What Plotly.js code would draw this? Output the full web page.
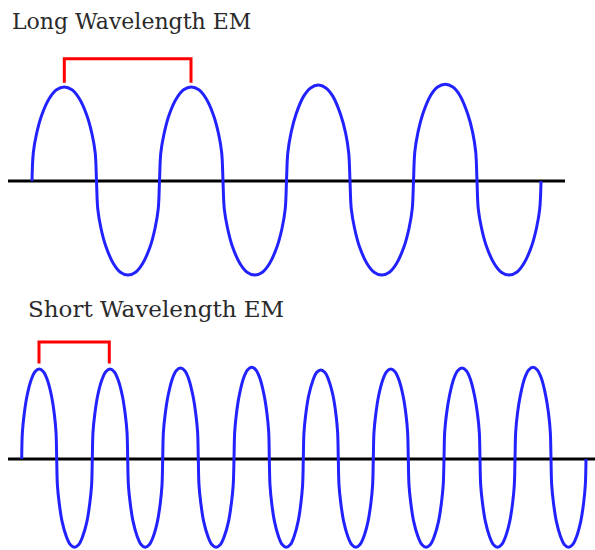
<!DOCTYPE html>
<html>
<head>
<meta charset="utf-8">
<script src="https://cdn.plot.ly/plotly-3.0.1.min.js"></script>
<style>html,body{margin:0;padding:0;background:#fff;}#chart{width:595px;height:550px;}</style>
</head>
<body>
<div id="chart"></div>
<script>
// Titles
const titleLong = "Long Wavelength EM";
const titleShort = "Short Wavelength EM";

// Long wavelength wave (x along the picture, y = amplitude)
const longX = [
  32, 33.3, 36.5, 41.7, 49.4, 56.5, 64.3, 72, 79.1, 86.8, 92, 95.2,
  96.5, 97.8, 100.9, 106, 113.5, 120.4, 128, 135.6, 142.5, 150.1, 155.1, 158.2,
  159.5, 160.8, 164, 169, 176.6, 183.6, 191.3, 198.9, 205.9, 213.5, 218.6, 221.7,
  223, 224.3, 227.5, 232.5, 240.1, 247.1, 254.8, 262.4, 269.4, 277, 282.1, 285.2,
  286.5, 287.8, 291, 296, 303.6, 310.6, 318.3, 325.9, 332.9, 340.5, 345.6, 348.7,
  350, 351.3, 354.5, 359.5, 367.1, 374.1, 381.8, 389.4, 396.4, 404, 409.1, 412.2,
  413.5, 414.8, 418, 423, 430.6, 437.6, 445.3, 452.9, 459.9, 467.5, 472.6, 475.7,
  477, 478.3, 481.5, 486.6, 494.3, 501.3, 509, 516.7, 523.7, 531.4, 536.5, 539.7, 541
];
const longY = [
  0, 0.3, 0.5, 0.7, 0.88, 0.97, 1.0, 0.97, 0.88, 0.7, 0.5, 0.3,
  0, -0.3, -0.5, -0.7, -0.88, -0.97, -1.0, -0.97, -0.88, -0.7, -0.5, -0.3,
  0, 0.3, 0.5, 0.7, 0.88, 0.97, 1.0, 0.97, 0.88, 0.7, 0.5, 0.3,
  0, -0.3, -0.5, -0.7, -0.88, -0.97, -1.0, -0.97, -0.88, -0.7, -0.5, -0.3,
  0, 0.3, 0.51, 0.71, 0.9, 0.99, 1.02, 0.99, 0.9, 0.71, 0.51, 0.3,
  0, -0.3, -0.5, -0.7, -0.88, -0.97, -1.0, -0.97, -0.88, -0.7, -0.5, -0.3,
  0, 0.31, 0.52, 0.72, 0.91, 1.0, 1.03, 1.0, 0.91, 0.72, 0.52, 0.31,
  0, -0.3, -0.5, -0.7, -0.88, -0.97, -1.0, -0.97, -0.88, -0.7, -0.5, -0.3, 0
];

// Short wavelength wave
const shortX = [
  21.7, 22.4, 24.2, 27, 31.2, 35, 39.2, 43.4, 47.3, 51.5, 54.3, 56,
  56.7, 57.4, 59.2, 62, 66.3, 70.2, 74.5, 78.8, 82.7, 87, 89.8, 91.6,
  92.3, 93, 94.8, 97.6, 101.9, 105.8, 110, 114.2, 118.1, 122.4, 125.2, 127,
  127.7, 128.4, 130.2, 133, 137.2, 141, 145.2, 149.4, 153.3, 157.5, 160.3, 162,
  162.7, 163.4, 165.2, 168, 172.3, 176.2, 180.5, 184.8, 188.7, 193, 195.8, 197.6,
  198.3, 199, 200.8, 203.6, 207.9, 211.8, 216.1, 220.4, 224.3, 228.6, 231.4, 233.2,
  234, 234.7, 236.5, 239.3, 243.6, 247.5, 251.7, 255.9, 259.8, 264.1, 266.9, 268.7,
  269.3, 270, 271.7, 274.4, 278.5, 282.2, 286.3, 290.4, 294.1, 298.2, 300.9, 302.6,
  303.3, 304, 305.8, 308.6, 312.8, 316.6, 320.8, 325, 328.9, 333.1, 335.9, 337.6,
  338.3, 339, 340.8, 343.6, 347.8, 351.6, 355.8, 360, 363.9, 368.1, 370.9, 372.6,
  373.3, 374, 375.8, 378.6, 382.8, 386.6, 390.8, 395, 398.9, 403.1, 405.9, 407.6,
  408.3, 409, 410.8, 413.6, 417.9, 421.8, 426.1, 430.4, 434.3, 438.6, 441.4, 443.2,
  444, 444.7, 446.5, 449.4, 453.7, 457.7, 462, 466.3, 470.3, 474.6, 477.5, 479.3,
  480, 480.7, 482.5, 485.3, 489.5, 493.3, 497.5, 501.7, 505.6, 509.8, 512.6, 514.3,
  515, 515.7, 517.5, 520.4, 524.7, 528.7, 533, 537.3, 541.3, 545.6, 548.5, 550.3,
  551, 551.7, 553.5, 556.3, 560.5, 564.3, 568.5, 572.7, 576.6, 580.8, 583.6, 585.3, 586
];
const shortY = [
  0, 0.3, 0.5, 0.7, 0.88, 0.97, 1.0, 0.97, 0.88, 0.7, 0.5, 0.3,
  0, -0.29, -0.49, -0.69, -0.86, -0.95, -0.98, -0.95, -0.86, -0.69, -0.49, -0.29,
  0, 0.3, 0.5, 0.7, 0.88, 0.97, 1.0, 0.97, 0.88, 0.7, 0.5, 0.3,
  0, -0.29, -0.49, -0.69, -0.86, -0.95, -0.98, -0.95, -0.86, -0.69, -0.49, -0.29,
  0, 0.3, 0.5, 0.7, 0.89, 0.98, 1.01, 0.98, 0.89, 0.7, 0.5, 0.3,
  0, -0.29, -0.49, -0.69, -0.86, -0.95, -0.98, -0.95, -0.86, -0.69, -0.49, -0.29,
  0, 0.3, 0.51, 0.71, 0.9, 0.99, 1.02, 0.99, 0.9, 0.71, 0.51, 0.3,
  0, -0.29, -0.49, -0.69, -0.86, -0.95, -0.98, -0.95, -0.86, -0.69, -0.49, -0.29,
  0, 0.3, 0.5, 0.7, 0.87, 0.96, 0.99, 0.96, 0.87, 0.7, 0.5, 0.3,
  0, -0.29, -0.49, -0.69, -0.86, -0.95, -0.98, -0.95, -0.86, -0.69, -0.49, -0.29,
  0, 0.3, 0.5, 0.7, 0.88, 0.97, 1.0, 0.97, 0.88, 0.7, 0.5, 0.3,
  0, -0.29, -0.49, -0.69, -0.86, -0.95, -0.98, -0.95, -0.86, -0.69, -0.49, -0.29,
  0, 0.3, 0.5, 0.7, 0.89, 0.98, 1.01, 0.98, 0.89, 0.7, 0.5, 0.3,
  0, -0.29, -0.49, -0.69, -0.86, -0.95, -0.98, -0.95, -0.86, -0.69, -0.49, -0.29,
  0, 0.3, 0.51, 0.71, 0.9, 0.99, 1.02, 0.99, 0.9, 0.71, 0.51, 0.3,
  0, -0.29, -0.49, -0.69, -0.86, -0.95, -0.98, -0.95, -0.86, -0.69, -0.49, -0.29, 0
];

// Baselines
const longBaseX = [8, 565];
const longBaseY = [0, 0];
const shortBaseX = [8, 598];
const shortBaseY = [0, 0];

// Wavelength brackets (peak to peak)
const longBracketX = [64.3, 64.3, 191, 191];
const longBracketY = [1.045, 1.3, 1.3, 1.045];
const shortBracketX = [39, 39, 109.3, 109.3];
const shortBracketY = [1.06, 1.3, 1.3, 1.06];

const blue = "#2222ff";
const red = "#ff0000";
const serif = "DejaVu Serif";

const traces = [
  {x: longBaseX, y: longBaseY, xaxis: "x", yaxis: "y", mode: "lines", line: {color: "#000", width: 3}},
  {x: shortBaseX, y: shortBaseY, xaxis: "x", yaxis: "y2", mode: "lines", line: {color: "#000", width: 3}},
  {x: longX, y: longY, xaxis: "x", yaxis: "y", mode: "lines", line: {color: blue, width: 3, shape: "spline", smoothing: 1}},
  {x: shortX, y: shortY, xaxis: "x", yaxis: "y2", mode: "lines", line: {color: blue, width: 3, shape: "spline", smoothing: 1}},
  {x: longBracketX, y: longBracketY, xaxis: "x", yaxis: "y", mode: "lines", line: {color: red, width: 3}},
  {x: shortBracketX, y: shortBracketY, xaxis: "x", yaxis: "y2", mode: "lines", line: {color: red, width: 3}}
];

const split = 250 / 550;
const layout = {
  width: 595, height: 550,
  margin: {l: 0, r: 0, t: 0, b: 0},
  paper_bgcolor: "#fff", plot_bgcolor: "#fff",
  showlegend: false,
  font: {family: serif},
  xaxis: {range: [0, 595], visible: false, fixedrange: true},
  yaxis: {domain: [split, 1], range: [-(300 - 181) / 94, 181 / 94], visible: false},
  yaxis2: {domain: [0, split], range: [-(550 - 459) / 90, (459 - 300) / 90], visible: false},
  annotations: [
    {text: titleLong, xref: "paper", yref: "paper", x: 10 / 595, y: 1 - 7 / 550, xanchor: "left", yanchor: "top",
     showarrow: false, font: {family: serif, size: 22, color: "#2a2a2a"}},
    {text: titleShort, xref: "paper", yref: "paper", x: 26 / 595, y: 1 - 293.5 / 550, xanchor: "left", yanchor: "top",
     showarrow: false, font: {family: serif, size: 23, color: "#2a2a2a"}}
  ]
};

Plotly.newPlot("chart", traces, layout, {staticPlot: true, displayModeBar: false});
</script>
</body>
</html>
